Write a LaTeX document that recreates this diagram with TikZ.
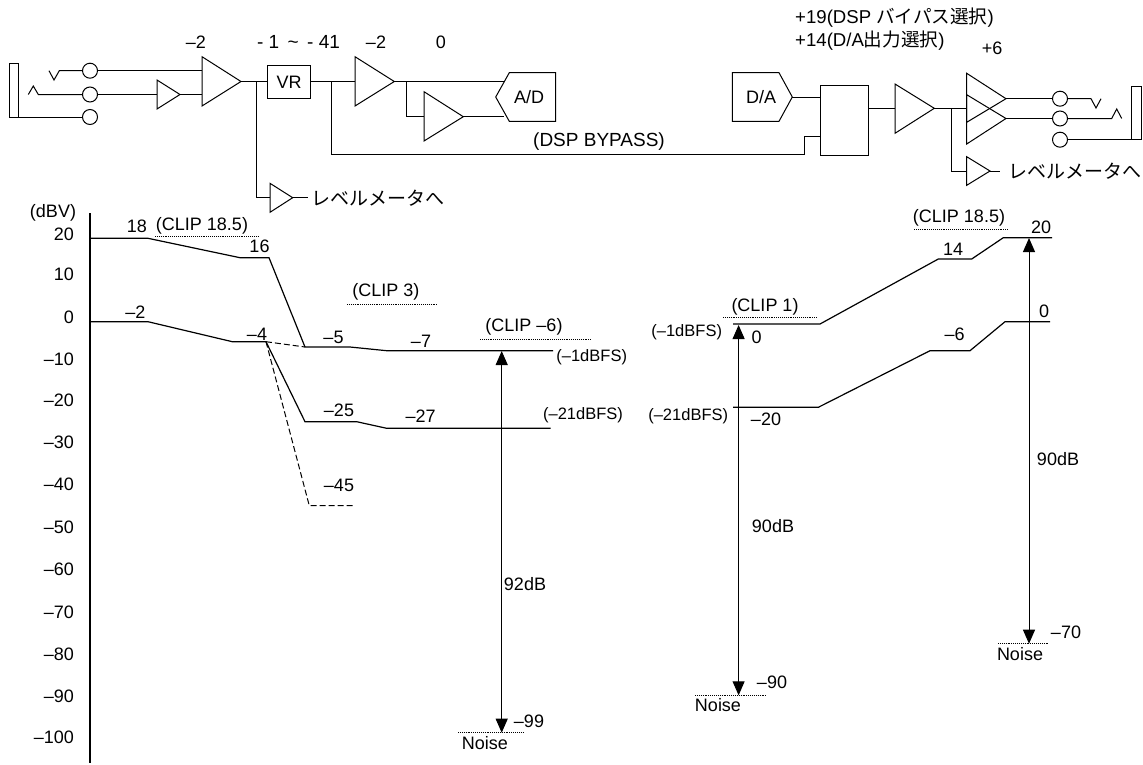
\documentclass[tikz,border=0pt]{standalone}
\usepackage{fontspec}
\setmainfont{Liberation Sans}
\newfontfamily\jpfont{Noto Sans CJK JP}
\usetikzlibrary{arrows.meta}
\tikzset{
    wire/.style={draw=black, line width=1pt},
    level/.style={draw=black, line width=1.2pt},
    clipline/.style={draw=black, line width=0.9pt, densely dotted},
    dropline/.style={draw=black, line width=1pt, dash pattern=on 6pt off 3pt},
    span/.style={draw=black, line width=1pt, {Triangle[length=14pt,width=12pt]}-{Triangle[length=14pt,width=12pt]}},
    lbl/.style={inner sep=0pt, font=\fontsize{18}{20}\selectfont},
    fslbl/.style={inner sep=0pt, font=\fontsize{16.5}{18}\selectfont},
    widelbl/.style={inner sep=0pt, font=\fontsize{19}{21}\selectfont},
    headlbl/.style={inner sep=0pt, font=\fontsize{18.6}{21}\selectfont},
    jack/.style={circle, draw=black, line width=1pt, minimum size=15pt, inner sep=0pt},
    blockbox/.style={rectangle, draw=black, line width=1pt, inner sep=0pt},
}
\begin{document}
\begin{tikzpicture}[x=1pt,y=-1pt]
    \useasboundingbox (0,0) rectangle (1143,764);
    % input side
    \node[jack] (J1) at (90,70.7){};
    \node[jack] (J2) at (90,94.5){};
    \node[jack] (J3) at (90,117){};
    \draw[wire] (9,63) rectangle (18,117);
    \coordinate (S3) at (18,117);
    \draw[wire] (S3) -- (J3);
    \draw[wire] (49,70.7) -- (54,80) -- (59.3,70.7) -- (J1);
    \draw[wire] (28.3,94.5) -- (33.3,86) -- (38.3,94.5) -- (J2);
    % amplifiers are drawn as paths, the corners are named
    \coordinate (A1t) at (157,80); \coordinate (A1b) at (157,109); \coordinate (A1o) at (180,94.5);
    \draw[wire] (A1t) -- (A1o) -- (A1b) -- cycle;
    \coordinate (A2t) at (202,56.7); \coordinate (A2b) at (202,106); \coordinate (A2o) at (241,81.5);
    \draw[wire] (A2t) -- (A2o) -- (A2b) -- cycle;
    \draw[wire] (J1) -- (202,70.7);
    \draw[wire] (J2) -- (157,94.5);
    \draw[wire] (A1o) -- (202,94.5);
    \node[blockbox, minimum width=42.6pt, minimum height=32.3pt, font=\fontsize{18}{20}\selectfont] (VR) at (289,82){VR};
    \draw[wire] (A2o) -- (VR.west |- A2o);
    \coordinate (M1t) at (270,183.3); \coordinate (M1b) at (270,212.3); \coordinate (M1o) at (292.7,197.7);
    \draw[wire] (M1t) -- (M1o) -- (M1b) -- cycle;
    \draw[wire] (256.7,81.5) |- (270,197.7);
    \draw[wire] (M1o) -- (308,197.7);
    \node[widelbl, anchor=west] (M1l) at (311,198.5){\jpfont レベルメータへ};
    \coordinate (A3t) at (355,56.7); \coordinate (A3b) at (355,106); \coordinate (A3o) at (394.3,81.5);
    \draw[wire] (A3t) -- (A3o) -- (A3b) -- cycle;
    \draw[wire] (VR.east |- A3o) -- (355,81.5);
    \coordinate (A4t) at (424,91.7); \coordinate (A4b) at (424,141); \coordinate (A4o) at (463.3,116.7);
    \draw[wire] (A4t) -- (A4o) -- (A4b) -- cycle;
    \draw[wire] (406,81.5) |- (424,116.7);
    \draw[wire] (A3o) -- (504,81.5);
    \draw[wire] (A4o) -- (504,116.7);
    \draw[wire] (509.3,72.7) -- (555.7,72.7) -- (555.7,121.3) -- (509.3,121.3) -- (495.7,97) -- cycle;
    \node[lbl] (AD) at (529,97.5){A/D};
    % output side
    \draw[wire] (732.3,72.7) -- (779,72.7) -- (792.3,97) -- (779,121.3) -- (732.3,121.3) -- cycle;
    \node[lbl] (DA) at (761,97.5){D/A};
    \node[blockbox, minimum width=48.3pt, minimum height=70pt] (SW) at (844.2,120.7){};
    \draw[wire] (792.3,97) -- (SW.west |- 0,97);
    \draw[wire] (331.7,81.5) |- (804.3,154.3) |- (SW.west |- 0,136.7);
    \node[widelbl] (BP) at (599,142){(DSP BYPASS)};
    \coordinate (A5t) at (895,84); \coordinate (A5b) at (895,133.3); \coordinate (A5o) at (934.3,108.3);
    \draw[wire] (A5t) -- (A5o) -- (A5b) -- cycle;
    \draw[wire] (SW.east |- A5o) -- (895,108.3);
    \draw[wire] (A5o) -- (966.7,108.3);
    \coordinate (A6t) at (966.7,73.3); \coordinate (A6b) at (966.7,122.3); \coordinate (A6o) at (1006,98.7);
    \draw[wire] (A6t) -- (A6o) -- (A6b) -- cycle;
    \coordinate (A7t) at (966.7,94.7); \coordinate (A7b) at (966.7,144); \coordinate (A7o) at (1006,118.5);
    \draw[wire] (A7t) -- (A7o) -- (A7b) -- cycle;
    \coordinate (M2t) at (966.7,156.7); \coordinate (M2b) at (966.7,185.3); \coordinate (M2o) at (990,171);
    \draw[wire] (M2t) -- (M2o) -- (M2b) -- cycle;
    \draw[wire] (951,108.3) |- (966.7,171);
    \draw[wire] (M2o) -- (1000,171);
    \node[widelbl, anchor=west] (M2l) at (1008,171.5){\jpfont レベルメータへ};
    \node[jack] (J4) at (1060,98.7){};
    \node[jack] (J5) at (1060,118.5){};
    \node[jack] (J6) at (1060,139.7){};
    \draw[wire] (A6o) -- (J4);
    \draw[wire] (A7o) -- (J5);
    \draw[wire] (J4) -- (1091,98.7) -- (1096,108) -- (1101,98.7);
    \draw[wire] (J5) -- (1111.7,118.5) -- (1116.7,109) -- (1121.7,118.5);
    \draw[wire] (J6) -- (1131.7,139.7);
    \draw[wire] (1131.7,86) rectangle (1141,139.7);
    % gains along the top
    \node[lbl] (g1) at (196,42){–2};
    \node[widelbl] (g2) at (298.5,42){- 1 \,\textasciitilde\, - 41};
    \node[lbl] (g3) at (376,42){–2};
    \node[lbl] (g4) at (441,42){0};
    \node[headlbl, anchor=west] (g5) at (795,18){+19(DSP {\jpfont バイパス選択})};
    \node[headlbl, anchor=west] (g6) at (795,41){+14(D/A{\jpfont 出力選択})};
    \node[lbl] (g7) at (992,48){+6};
    % scale
    \draw[line width=1.2pt] (90,213) coordinate (axT) -- (90,763) coordinate (axB);
    \node[lbl] (dBV) at (53,213){(dBV)};
    \foreach \t/\y in {20/234,10/274,0/317,–10/359,–20/400,–30/442,–40/484,–50/527,–60/569,–70/612,–80/654,–90/696,–100/737}{
        \node[lbl, anchor=east] at (74,\y){\t};
    }
    % left levels
    \draw[level] (90,238.3) -- (148,238.3) -- (240,257.7) -- (269,257.7) -- (305,347) -- (350,347) -- (386.7,350.7) -- (553,350.7);
    \draw[level] (90,321.7) -- (148,321.7) -- (232.3,341.7) -- (266,341.7) -- (305,421.7) -- (356.7,421.7) -- (386.7,428.3) -- (550.7,428.3);
    \draw[dropline] (266,341.7) -- (305,347);
    \draw[dropline] (266,341.7) -- (309.3,505.7) -- (355,505.7);
    \draw[clipline] (155,236.7) -- (258,236.7);
    \draw[clipline] (347,304.7) -- (438,304.7);
    \draw[clipline] (480,339) -- (590.7,339);
    \draw[clipline] (458,732.7) -- (524,732.7);
    \draw[span] (501.7,351) -- (501.7,732.7);
    \node[lbl] at (137,226){18};
    \node[lbl] at (202,226){(CLIP 18.5)};
    \node[lbl] at (259.5,246.7){16};
    \node[lbl] at (135.5,312){–2};
    \node[lbl] at (257,334){–4};
    \node[lbl] at (333.5,337){–5};
    \node[lbl] at (421,341){–7};
    \node[lbl] at (386,292){(CLIP 3)};
    \node[lbl] at (524,327){(CLIP –6)};
    \node[fslbl] at (591.7,357){(–1dBFS)};
    \node[lbl] at (339,410){–25};
    \node[lbl] at (420.7,416.7){–27};
    \node[fslbl] at (583,415){(–21dBFS)};
    \node[lbl] at (339,485){–45};
    \node[lbl] at (525,584){92dB};
    \node[lbl] at (529,721){–99};
    \node[lbl] at (485,743){Noise};
    % right levels
    \draw[level] (733,324) -- (820,324) -- (938.3,259) -- (971.7,259) -- (1003.3,237.7) -- (1052,237.7);
    \draw[level] (733,407.3) -- (818.3,407.3) -- (930,350.7) -- (970,350.7) -- (1005,321.7) -- (1050,321.7);
    \draw[clipline] (723,317.3) -- (817.3,317.3);
    \draw[clipline] (914,229.7) -- (1008,229.7);
    \draw[clipline] (695,695.3) -- (766,695.3);
    \draw[clipline] (998,643.7) -- (1048,643.7);
    \draw[span] (738.6,325) -- (738.6,695.3);
    \draw[span] (1029,238) -- (1029,643.7);
    \node[lbl] at (765,306.7){(CLIP 1)};
    \node[lbl] at (959,218){(CLIP 18.5)};
    \node[lbl] at (953,249){14};
    \node[lbl] at (1041,227){20};
    \node[lbl] at (954.5,334){–6};
    \node[lbl] at (1044,311){0};
    \node[fslbl] at (686.7,332){(–1dBFS)};
    \node[lbl] at (756.7,337.7){0};
    \node[fslbl] at (688.2,416.7){(–21dBFS)};
    \node[lbl] at (766,419){–20};
    \node[lbl] at (773,526){90dB};
    \node[lbl] at (1058,459){90dB};
    \node[lbl] at (772,682){–90};
    \node[lbl] at (718,705){Noise};
    \node[lbl] at (1066,632){–70};
    \node[lbl] at (1020,654){Noise};
\end{tikzpicture}
\end{document}
